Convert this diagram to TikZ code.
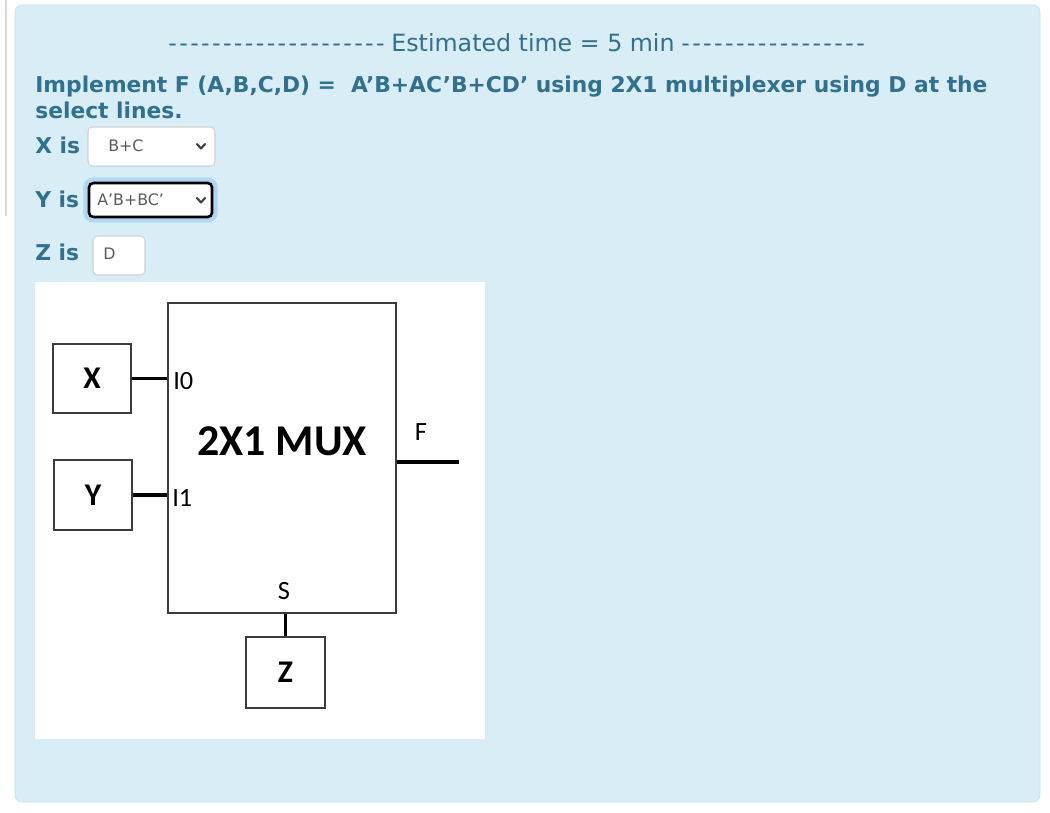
\documentclass[tikz,border=0pt]{standalone}
\usepackage{fontspec}
\setmainfont{DejaVu Sans}
\newfontfamily\uifont{DejaVu Sans}
\newfontfamily\dashfont[LetterSpace=10]{DejaVu Sans}
\newfontfamily\muxfont{Carlito}
\usetikzlibrary{positioning, calc}
\definecolor{panelblue}{RGB}{217,237,247}
\definecolor{panelline}{RGB}{188,232,241}
\definecolor{infoteal}{RGB}{49,112,143}
\definecolor{fieldgray}{RGB}{210,210,210}
\definecolor{glowblue}{RGB}{150,200,238}
\definecolor{boxgray}{RGB}{60,60,60}

\begin{document}
\begin{tikzpicture}[x=0.02cm, y=-0.02cm,
    hdr/.style={font=\uifont\fontsize{12.4}{15}\selectfont\bfseries, text=infoteal, inner sep=0pt, anchor=base west},
    field/.style={draw=fieldgray, fill=white, rounded corners=2.5pt, line width=0.6pt, inner sep=0pt},
    fieldtxt/.style={font=\uifont\fontsize{9}{10}\selectfont, text=black!65, anchor=base west, inner sep=0pt},
    chev/.style={line width=1.2pt, black!75, line cap=round, line join=round},
    blk/.style={draw=boxgray, line width=0.9pt, fill=white, inner sep=0pt},
    lbl/.style={font=\muxfont\fontsize{18}{20}\selectfont\bfseries, inner sep=0pt},
    wire/.style={line width=2.2pt, black},
    pin/.style={font=\muxfont\fontsize{15}{17}\selectfont, inner sep=0pt}
  ]
  \useasboundingbox (0,0) rectangle (1050,813);
  \fill[white] (0,0) rectangle (1050,813);
  % page edge and info panel
  \draw[black!15, line width=1pt] (6,0) -- (6,216);
  \draw[panelline, fill=panelblue, rounded corners=4pt] (15,5) rectangle (1040,802);

  % heading
  \node[font=\uifont\fontsize{13.5}{15}\selectfont, text=infoteal, inner sep=0pt, anchor=base] (est) at (533,52) {Estimated time = 5 min};
  \node[font=\dashfont\fontsize{13.5}{15}\selectfont, text=infoteal, inner sep=0pt, anchor=base east] (dashl) at (385,52) {--------------------};
  \node[font=\dashfont\fontsize{13.5}{15}\selectfont, text=infoteal, inner sep=0pt, anchor=base west] (dashr) at (681,52) {-----------------};

  \node[hdr] (task) at (35,93) {Implement F (A,B,C,D) =\ \ A’B+AC’B+CD’ using 2X1 multiplexer using D at the};
  \node[hdr] (task2) at (35,119) {select lines.};

  % answer fields
  \node[hdr] (xis) at (35,154) {X is};
  \node[field, minimum width=2.54cm, minimum height=0.78cm] (xsel) at (151.5,146.5) {};
  \node[fieldtxt] (xval) at (108,152) {B+C};
  \draw[chev] (197,144) -- (201,148.5) -- (205,144);

  \node[hdr] (yis) at (35,208) {Y is};
  \draw[glowblue, line width=3pt, opacity=0.6, rounded corners=4pt] (86,180) rectangle (215,220);
  \node[field, draw=black, line width=1.5pt, minimum width=2.46cm, minimum height=0.68cm] (ysel) at (150.5,200) {};
  \node[fieldtxt] (yval) at (97,206) {A’B+BC’};
  \draw[chev] (197,198) -- (201,202.5) -- (205,198);

  \node[hdr] (zis) at (35,261) {Z is};
  \node[field, minimum width=1.04cm, minimum height=0.78cm] (zsel) at (119,255.5) {};
  \node[fieldtxt] (zval) at (103,260) {D};

  % multiplexer sketch
  \fill[white] (35,282) rectangle (485,739);
  \node[blk, minimum width=4.56cm, minimum height=6.2cm] (mux) at (282,458) {};
  \node[font=\muxfont\fontsize{25}{27}\selectfont\bfseries, inner sep=0pt] (muxname) at (282,441) {2X1 MUX};
  \node[blk, minimum width=1.56cm, minimum height=1.38cm] (xbox) at (92,378.5) {};
  \node[lbl] at (xbox) {X};
  \node[blk, minimum width=1.56cm, minimum height=1.4cm] (ybox) at (93,495) {};
  \node[lbl] at (ybox) {Y};
  \node[blk, minimum width=1.58cm, minimum height=1.42cm] (zbox) at (285.5,672.5) {};
  \node[lbl] at (zbox) {Z};

  \node[pin, anchor=west] (i0) at (173,381) {I0};
  \node[pin, anchor=west] (i1) at (172,498) {I1};
  \node[pin] (fname) at (421,432) {F};
  \node[pin] (sname) at (284,591) {S};
  \coordinate (fout) at (459,462);

  \draw[wire] (xbox.east) -- (xbox.east -| mux.west);
  \draw[wire] (ybox.east) -- (ybox.east -| mux.west);
  \draw[wire] (fout -| mux.east) -- (fout);
  \draw[wire] (zbox.north) -- (zbox.north |- mux.south);
\end{tikzpicture}
\end{document}
